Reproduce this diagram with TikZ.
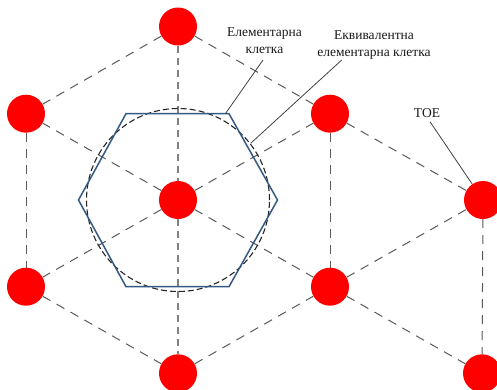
\documentclass[tikz,border=0pt]{standalone}
\usepackage{fontspec}
\setmainfont{Liberation Serif}
\begin{document}
\begin{tikzpicture}[x=1pt,y=-1pt,
  dot/.style={circle,fill=red,minimum size=38pt,inner sep=0pt},
  lat/.style={draw=black!65,line width=1pt,dash pattern=on 9pt off 7pt},
  axisline/.style={draw=black!50,line width=1.5pt,dash pattern=on 7pt off 5pt},
  hexline/.style={draw={rgb,255:red,50;green,90;blue,130},line width=1.5pt,line join=miter},
  circline/.style={draw=black!85,line width=1.1pt,dash pattern=on 6pt off 3pt},
  lead/.style={draw=black!75,line width=0.8pt},
  lbl/.style={font=\fontsize{13.5}{16.7}\selectfont,align=center,text=black!90,inner sep=0pt}]
\useasboundingbox (0,0) rectangle (497,389);
% lattice dots
\node[dot] (T)  at (178,26.5) {};
\node[dot] (UL) at (26,113.7) {};
\node[dot] (UR) at (330,113.7) {};
\node[dot] (C)  at (178,200) {};
\node[dot] (LL) at (26,286.7) {};
\node[dot] (LR) at (330,286.7) {};
\node[dot] (B)  at (178,373.3) {};
\node[dot] (FR) at (483,200) {};
\node[dot] (FB) at (482,373.3) {};
% dashed lattice lines
\draw[lat] (T) -- (UL);
\draw[lat] (T) -- (UR);
\draw[lat] (UL) -- (LL);
\draw[lat] (LL) -- (B);
\draw[lat] (B) -- (LR);
\draw[lat] (UR) -- (LR);
\draw[lat] (C) -- (UL);
\draw[lat] (C) -- (UR);
\draw[lat] (C) -- (LL);
\draw[lat] (C) -- (LR);
\draw[lat] (UR) -- (FR);
\draw[lat] (LR) -- (FR);
\draw[lat] (LR) -- (FB);
\draw[lat] (FR) -- (FB);
\draw[axisline] (T) -- (C);
\draw[axisline] (C) -- (B);
% equivalent cell (circle)
\draw[circline] (C.center) circle[radius=91.5pt];
% elementary cell (hexagon)
\coordinate (h1) at (126,113.7);
\coordinate (h2) at (229,113.7);
\coordinate (h3) at (277.5,200);
\coordinate (h4) at (229,286.7);
\coordinate (h5) at (126,286.7);
\coordinate (h6) at (78.5,200);
\draw[hexline] (h1) -- (h2) -- (h3) -- (h4) -- (h5) -- (h6) -- cycle;
% labels
\node[lbl] (l1) at (264.5,40.5) {Елементарна\\клетка};
\node[lbl] (l2) at (374,45) {Еквивалентна\\елементарна клетка};
\node[lbl] (l3) at (427,113) {ТОЕ};
\coordinate (a1) at (263,60);
\coordinate (e1) at (225.5,113.5);
\coordinate (a2) at (341.7,60);
\coordinate (e2) at (250.7,143.3);
\coordinate (a3) at (430,121.7);
\draw[lead] (a1) -- (e1);
\draw[lead] (a2) -- (e2);
\draw[lead] (a3) -- (FR);
\end{tikzpicture}
\end{document}
